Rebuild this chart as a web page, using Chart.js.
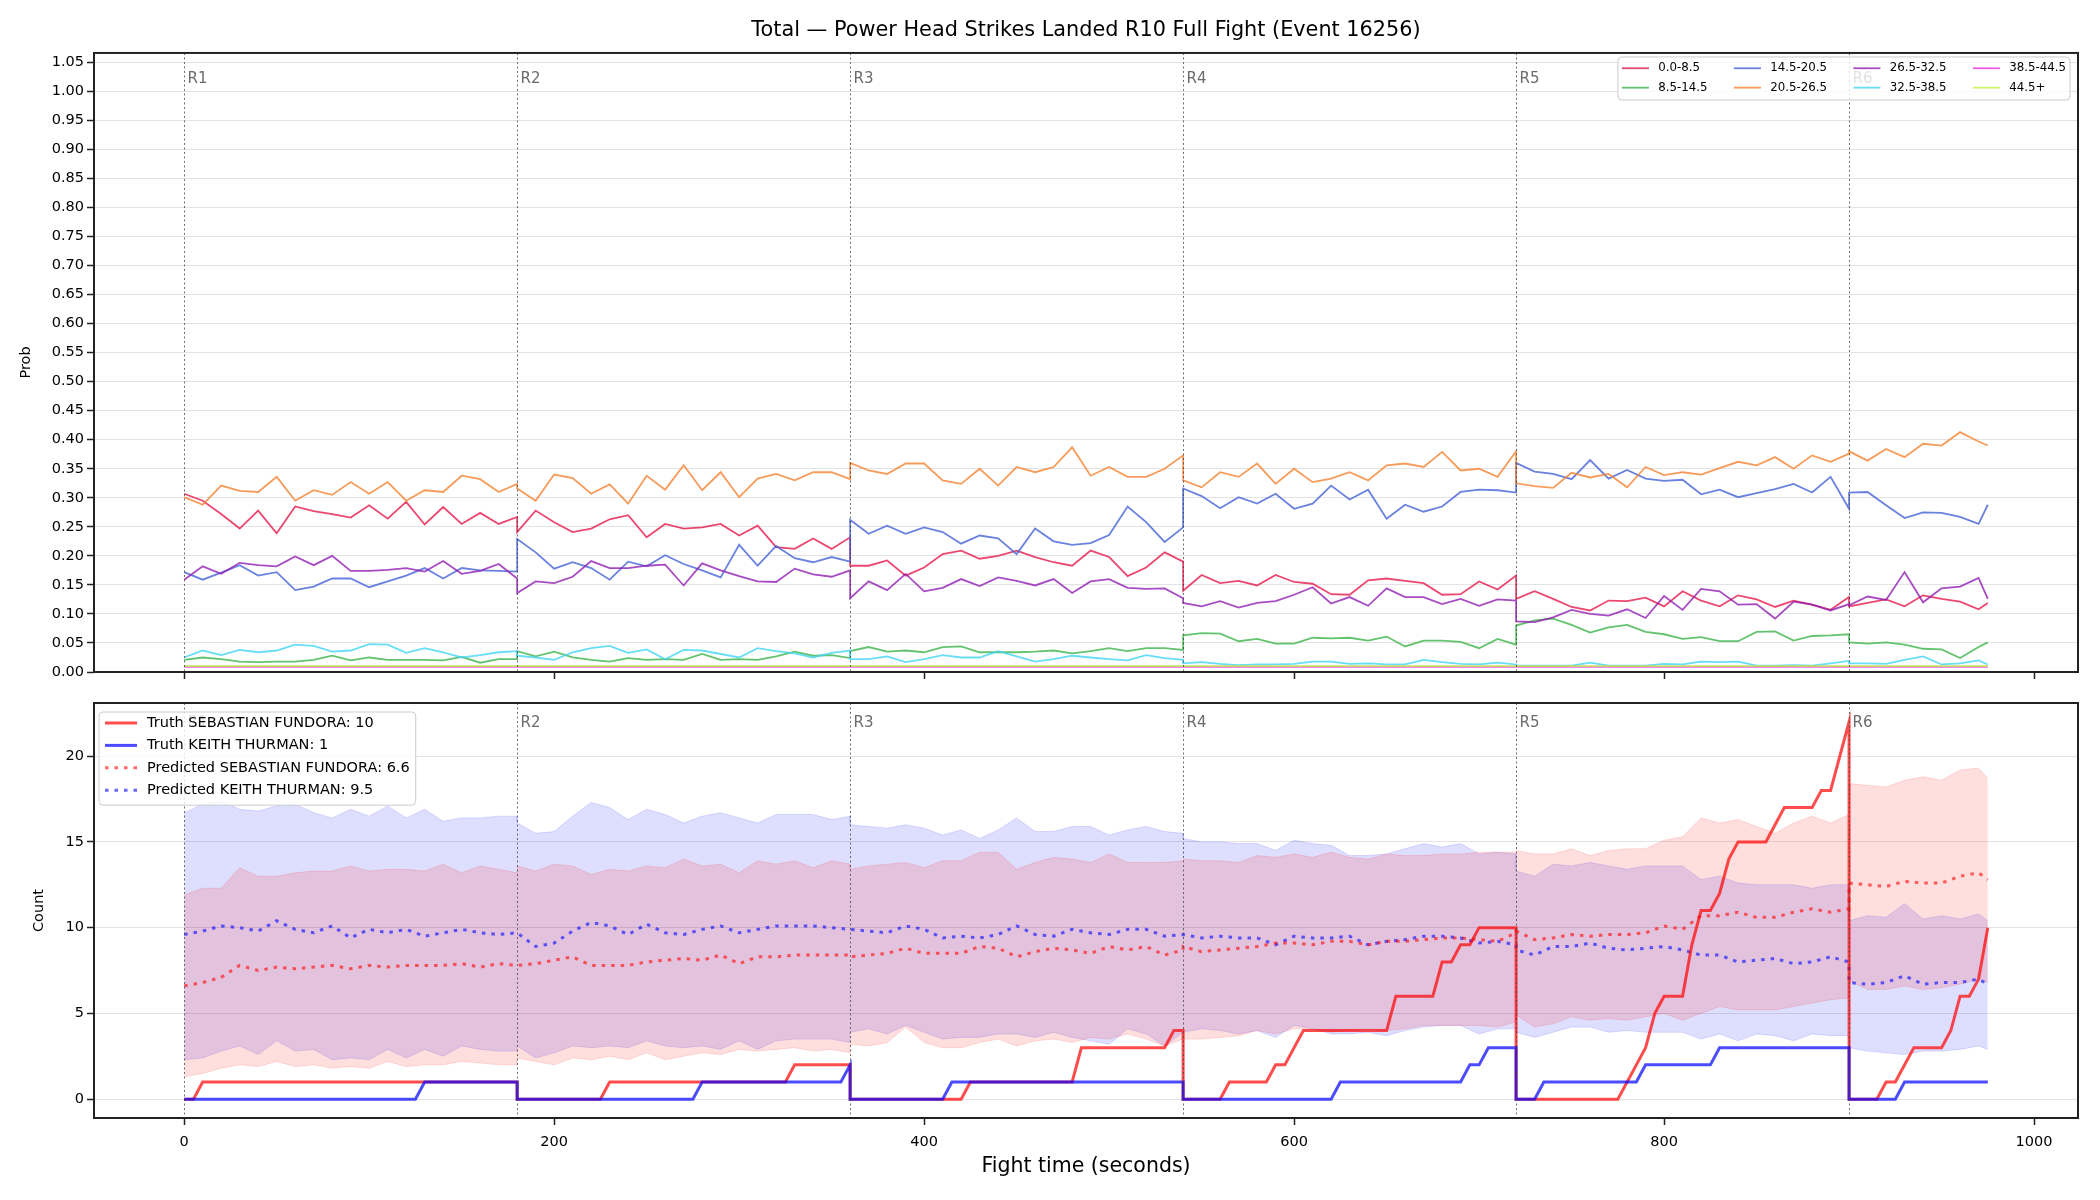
<!DOCTYPE html>
<html>
<head>
<meta charset="utf-8">
<script src="https://cdn.jsdelivr.net/npm/chart.js@4.4.1/dist/chart.umd.min.js"></script>
<style>
  html, body { margin: 0; padding: 0; background: #fff; }
  #wrap { position: relative; width: 2100px; height: 1200px; }
  canvas { position: absolute; left: 0; }
  #probChart { top: 0; }
  #countChart { top: 690px; }
</style>
</head>
<body>
<div id="wrap">
  <canvas id="probChart" width="2100" height="690"></canvas>
  <canvas id="countChart" width="2100" height="510"></canvas>
</div>
<script>
// sample times (s); each round repeats its boundary so the jump is vertical
const fightTime = [
  0, 10, 20, 30, 40, 50, 60, 70, 80, 90, 100, 110, 120, 130, 140, 150, 160, 170, 180,
  180, 190, 200, 210, 220, 230, 240, 250, 260, 270, 280, 290, 300, 310, 320, 330, 340, 350, 360,
  360, 370, 380, 390, 400, 410, 420, 430, 440, 450, 460, 470, 480, 490, 500, 510, 520, 530, 540,
  540, 550, 560, 570, 580, 590, 600, 610, 620, 630, 640, 650, 660, 670, 680, 690, 700, 710, 720,
  720, 730, 740, 750, 760, 770, 780, 790, 800, 810, 820, 830, 840, 850, 860, 870, 880, 890, 900,
  900, 910, 920, 930, 940, 950, 960, 970, 975
];
const flatTime = [0, 180, 180, 360, 360, 540, 540, 720, 720, 900, 900, 975];

const roundStarts = [0, 180, 360, 540, 720, 900];
const roundLabels = ['R1', 'R2', 'R3', 'R4', 'R5', 'R6'];

const bandLabels = ['0.0-8.5', '8.5-14.5', '14.5-20.5', '20.5-26.5', '26.5-32.5', '32.5-38.5', '38.5-44.5', '44.5+'];
const bandColors = ['#e6194b', '#3cb44b', '#4363d8', '#f58231', '#911eb4', '#42d4f4', '#f032e6', '#bfef45'];

const p0_85 = [
  0.307, 0.295, 0.272, 0.247, 0.278, 0.239, 0.285, 0.277, 0.272, 0.266, 0.287, 0.264, 0.293, 0.254, 0.284, 0.255, 0.274, 0.255, 0.267,
  0.241, 0.278, 0.258, 0.241, 0.247, 0.263, 0.27, 0.232, 0.255, 0.247, 0.249, 0.255, 0.235, 0.252, 0.215, 0.212, 0.23, 0.212, 0.232,
  0.183, 0.183, 0.192, 0.166, 0.18, 0.203, 0.209, 0.195, 0.2, 0.209, 0.198, 0.189, 0.183, 0.209, 0.198, 0.165, 0.18, 0.206, 0.19,
  0.14, 0.167, 0.153, 0.157, 0.149, 0.167, 0.155, 0.152, 0.134, 0.133, 0.158, 0.161, 0.157, 0.153, 0.133, 0.134, 0.156, 0.142, 0.166,
  0.126, 0.139, 0.126, 0.112, 0.106, 0.123, 0.122, 0.128, 0.113, 0.139, 0.123, 0.113, 0.132, 0.125, 0.112, 0.123, 0.116, 0.107, 0.129,
  0.113, 0.119, 0.125, 0.113, 0.132, 0.126, 0.121, 0.108, 0.119
];
const p85_145 = [
  0.021, 0.025, 0.022, 0.018, 0.017, 0.018, 0.018, 0.021, 0.028, 0.02, 0.025, 0.021, 0.021, 0.021, 0.02, 0.026, 0.016, 0.022, 0.022,
  0.036, 0.027, 0.035, 0.025, 0.021, 0.018, 0.024, 0.021, 0.022, 0.021, 0.031, 0.021, 0.022, 0.021, 0.027, 0.035, 0.028, 0.029, 0.024,
  0.036, 0.043, 0.035, 0.037, 0.034, 0.043, 0.044, 0.034, 0.034, 0.034, 0.035, 0.037, 0.032, 0.036, 0.041, 0.036, 0.041, 0.041, 0.038,
  0.063, 0.067, 0.066, 0.053, 0.057, 0.049, 0.049, 0.059, 0.058, 0.059, 0.054, 0.061, 0.044, 0.054, 0.054, 0.052, 0.041, 0.057, 0.047,
  0.08, 0.089, 0.092, 0.081, 0.068, 0.077, 0.081, 0.069, 0.065, 0.057, 0.06, 0.053, 0.053, 0.069, 0.07, 0.054, 0.062, 0.063, 0.065,
  0.051, 0.049, 0.051, 0.047, 0.04, 0.039, 0.024, 0.043, 0.051
];
const p145_205 = [
  0.172, 0.159, 0.171, 0.184, 0.166, 0.172, 0.141, 0.147, 0.161, 0.161, 0.146, 0.156, 0.166, 0.179, 0.161, 0.179, 0.175, 0.174, 0.173,
  0.229, 0.206, 0.178, 0.189, 0.179, 0.159, 0.19, 0.182, 0.201, 0.186, 0.175, 0.163, 0.219, 0.183, 0.217, 0.196, 0.189, 0.198, 0.19,
  0.262, 0.238, 0.252, 0.238, 0.249, 0.241, 0.221, 0.235, 0.23, 0.203, 0.247, 0.225, 0.219, 0.222, 0.236, 0.285, 0.258, 0.224, 0.249,
  0.316, 0.303, 0.282, 0.301, 0.29, 0.307, 0.281, 0.29, 0.321, 0.297, 0.314, 0.264, 0.288, 0.276, 0.285, 0.31, 0.314, 0.313, 0.309,
  0.36, 0.345, 0.341, 0.332, 0.365, 0.333, 0.348, 0.333, 0.329, 0.331, 0.306, 0.314, 0.301, 0.308, 0.315, 0.324, 0.309, 0.336, 0.281,
  0.309, 0.31, 0.287, 0.265, 0.275, 0.274, 0.267, 0.255, 0.288
];
const p205_265 = [
  0.301, 0.288, 0.321, 0.312, 0.31, 0.336, 0.295, 0.313, 0.305, 0.327, 0.307, 0.327, 0.295, 0.313, 0.31, 0.338, 0.332, 0.31, 0.324,
  0.316, 0.295, 0.34, 0.334, 0.307, 0.323, 0.29, 0.338, 0.314, 0.356, 0.313, 0.344, 0.301, 0.333, 0.341, 0.33, 0.344, 0.344, 0.332,
  0.36, 0.347, 0.341, 0.359, 0.359, 0.33, 0.324, 0.35, 0.321, 0.353, 0.344, 0.353, 0.387, 0.338, 0.353, 0.336, 0.336, 0.35, 0.373,
  0.33, 0.318, 0.344, 0.336, 0.359, 0.324, 0.35, 0.327, 0.333, 0.344, 0.33, 0.356, 0.359, 0.353, 0.379, 0.347, 0.35, 0.336, 0.38,
  0.325, 0.32, 0.317, 0.343, 0.335, 0.341, 0.318, 0.353, 0.339, 0.344, 0.34, 0.351, 0.362, 0.356, 0.37, 0.35, 0.373, 0.362, 0.376,
  0.38, 0.364, 0.384, 0.37, 0.393, 0.39, 0.413, 0.397, 0.39
];
const p265_325 = [
  0.159, 0.182, 0.169, 0.188, 0.184, 0.182, 0.199, 0.184, 0.2, 0.174, 0.174, 0.176, 0.179, 0.173, 0.191, 0.169, 0.174, 0.186, 0.161,
  0.136, 0.156, 0.153, 0.164, 0.191, 0.179, 0.179, 0.183, 0.185, 0.149, 0.187, 0.175, 0.165, 0.156, 0.155, 0.178, 0.168, 0.164, 0.175,
  0.127, 0.156, 0.141, 0.169, 0.139, 0.145, 0.16, 0.148, 0.163, 0.157, 0.149, 0.16, 0.136, 0.156, 0.16, 0.145, 0.143, 0.144, 0.127,
  0.119, 0.113, 0.122, 0.111, 0.119, 0.122, 0.133, 0.146, 0.118, 0.129, 0.114, 0.144, 0.129, 0.129, 0.117, 0.126, 0.114, 0.125, 0.123,
  0.087, 0.086, 0.094, 0.107, 0.1, 0.097, 0.108, 0.093, 0.131, 0.107, 0.143, 0.139, 0.116, 0.117, 0.092, 0.121, 0.116, 0.106, 0.117,
  0.115, 0.13, 0.124, 0.172, 0.12, 0.144, 0.147, 0.162, 0.126
];
const p325_385 = [
  0.025, 0.037, 0.029, 0.038, 0.034, 0.037, 0.047, 0.045, 0.035, 0.037, 0.048, 0.047, 0.033, 0.041, 0.034, 0.025, 0.029, 0.034, 0.036,
  0.028, 0.025, 0.021, 0.034, 0.041, 0.045, 0.033, 0.039, 0.022, 0.038, 0.037, 0.031, 0.025, 0.041, 0.036, 0.032, 0.025, 0.033, 0.037,
  0.022, 0.022, 0.027, 0.017, 0.022, 0.029, 0.025, 0.025, 0.036, 0.027, 0.018, 0.022, 0.028, 0.025, 0.022, 0.02, 0.029, 0.024, 0.021,
  0.015, 0.017, 0.014, 0.012, 0.013, 0.013, 0.014, 0.018, 0.018, 0.014, 0.015, 0.013, 0.013, 0.021, 0.017, 0.014, 0.013, 0.016, 0.013,
  0.011, 0.011, 0.011, 0.011, 0.016, 0.011, 0.011, 0.011, 0.014, 0.013, 0.018, 0.017, 0.018, 0.011, 0.011, 0.012, 0.011, 0.015, 0.019,
  0.015, 0.015, 0.014, 0.021, 0.027, 0.013, 0.015, 0.02, 0.013
];
const p385_445 = [0.009, 0.009, 0.009, 0.009, 0.009, 0.009, 0.009, 0.009, 0.009, 0.009, 0.009, 0.009];
const p445 = [0.01, 0.01, 0.01, 0.01, 0.01, 0.01, 0.01, 0.01, 0.01, 0.01, 0.01, 0.01];

// truth strike counts (cumulative within round)
const truthTimeRed = [
  0, 5, 10, 180,
  180, 225, 230, 325, 330, 360,
  360, 420, 425, 480, 485, 530, 535, 540,
  540, 560, 565, 585, 590, 595, 605, 650, 655, 675, 680, 685, 690, 695, 700, 720,
  720, 775, 780, 785, 790, 795, 800, 810, 815, 820, 825, 830, 835, 840, 855, 860, 865, 880, 885, 890, 900,
  900, 915, 920, 925, 935, 950, 955, 960, 965, 970, 975
];
const truthRed = [
  0, 0, 1, 1,
  0, 0, 1, 1, 2, 2,
  0, 0, 1, 1, 3, 3, 4, 4,
  0, 0, 1, 1, 2, 2, 4, 4, 6, 6, 8, 8, 9, 9, 10, 10,
  0, 0, 1, 2, 3, 5, 6, 6, 9, 11, 11, 12, 14, 15, 15, 16, 17, 17, 18, 18, 22,
  0, 0, 1, 1, 3, 3, 4, 6, 6, 7, 10
];
const truthTimeBlue = [
  0, 125, 130, 180,
  180, 275, 280, 355, 360,
  360, 410, 415, 540,
  540, 620, 625, 690, 695, 700, 705, 720,
  720, 730, 735, 785, 790, 825, 830, 900,
  900, 925, 930, 975
];
const truthBlue = [
  0, 0, 1, 1,
  0, 0, 1, 1, 2,
  0, 0, 1, 1,
  0, 0, 1, 1, 2, 2, 3, 3,
  0, 0, 1, 1, 2, 2, 3, 3,
  0, 0, 1, 1
];

const predRed = [
  6.6, 6.8, 7.1, 7.8, 7.5, 7.7, 7.6, 7.7, 7.8, 7.6, 7.8, 7.7, 7.8, 7.8, 7.8, 7.9, 7.7, 7.9, 7.8,
  7.8, 7.9, 8.1, 8.3, 7.8, 7.8, 7.8, 8.0, 8.1, 8.2, 8.1, 8.4, 7.9, 8.3, 8.3, 8.4, 8.4, 8.4, 8.4,
  8.3, 8.4, 8.5, 8.8, 8.5, 8.5, 8.5, 8.9, 8.8, 8.3, 8.6, 8.8, 8.7, 8.5, 8.9, 8.7, 8.9, 8.4, 8.7,
  8.9, 8.6, 8.7, 8.8, 8.9, 9.1, 9.1, 9.0, 9.2, 9.2, 9.0, 9.2, 9.2, 9.3, 9.4, 9.4, 9.3, 9.2, 9.7,
  9.8, 9.3, 9.4, 9.6, 9.5, 9.6, 9.6, 9.7, 10.1, 9.9, 10.7, 10.7, 10.9, 10.6, 10.6, 10.9, 11.1, 10.9, 11.1,
  12.6, 12.5, 12.4, 12.7, 12.6, 12.6, 13.0, 13.2, 12.8
];
const predBlue = [
  9.6, 9.8, 10.1, 10.0, 9.8, 10.4, 9.9, 9.7, 10.1, 9.4, 9.9, 9.7, 9.9, 9.5, 9.7, 9.9, 9.7, 9.6, 9.7,
  9.7, 8.9, 9.1, 9.8, 10.3, 10.1, 9.6, 10.2, 9.7, 9.6, 9.9, 10.1, 9.7, 9.9, 10.1, 10.1, 10.1, 10.0, 9.9,
  9.9, 9.8, 9.7, 10.1, 9.9, 9.4, 9.5, 9.4, 9.6, 10.1, 9.6, 9.5, 9.9, 9.7, 9.6, 9.9, 9.9, 9.5, 9.6,
  9.6, 9.4, 9.5, 9.4, 9.4, 9.0, 9.5, 9.4, 9.4, 9.5, 9.0, 9.2, 9.3, 9.5, 9.5, 9.4, 9.1, 9.2, 9.0,
  8.7, 8.4, 8.9, 8.9, 9.1, 8.8, 8.7, 8.8, 8.9, 8.7, 8.4, 8.4, 8.0, 8.1, 8.2, 7.9, 8.0, 8.3, 8.0,
  6.8, 6.7, 6.8, 7.2, 6.7, 6.8, 6.8, 7.0, 6.7
];
const redUpper = [
  11.9, 12.3, 12.3, 13.5, 13.0, 13.0, 13.2, 13.3, 13.3, 13.6, 13.3, 13.4, 13.4, 13.3, 13.7, 13.2, 13.6, 13.4, 13.2,
  13.6, 13.3, 13.7, 13.6, 13.1, 13.4, 13.3, 13.6, 13.5, 14.0, 13.6, 13.7, 13.2, 13.9, 13.7, 13.9, 13.5, 13.9, 13.7,
  13.4, 13.6, 13.7, 13.8, 13.5, 13.9, 13.9, 14.4, 14.4, 13.4, 13.8, 14.1, 14.0, 13.8, 14.3, 13.8, 13.8, 13.8, 13.9,
  14.0, 13.9, 13.9, 13.8, 14.2, 14.1, 14.3, 14.1, 14.4, 14.1, 14.0, 14.3, 14.2, 14.2, 14.3, 14.3, 14.4, 14.4, 14.4,
  14.5, 14.3, 14.3, 14.6, 14.2, 14.5, 14.6, 14.6, 15.1, 15.3, 16.4, 16.1, 16.3, 15.9, 15.5, 16.1, 16.5, 16.1, 16.6,
  18.4, 18.3, 18.2, 18.6, 18.8, 18.6, 19.2, 19.3, 18.7
];
const redLower = [
  1.3, 1.5, 1.8, 2.0, 1.9, 2.2, 1.9, 2.0, 1.8, 1.9, 1.8, 2.2, 1.9, 2.0, 2.0, 2.2, 2.1, 2.0, 2.0,
  2.4, 2.2, 2.0, 2.4, 2.3, 2.5, 2.3, 2.7, 2.3, 2.5, 2.7, 2.6, 2.9, 2.8, 2.9, 3.0, 2.8, 2.9, 2.7,
  3.2, 3.1, 3.3, 4.2, 3.3, 3.0, 3.0, 3.3, 3.5, 3.1, 3.4, 3.5, 3.3, 3.6, 3.5, 3.8, 3.5, 3.1, 3.5,
  3.5, 3.5, 3.6, 3.7, 4.0, 3.8, 4.1, 4.1, 3.9, 4.0, 4.1, 4.0, 4.1, 4.3, 4.3, 4.3, 4.3, 4.2, 4.5,
  4.9, 4.2, 4.4, 4.8, 4.6, 4.7, 4.6, 4.8, 5.0, 4.6, 5.0, 5.4, 5.2, 5.2, 5.2, 5.4, 5.6, 5.8, 5.9,
  6.9, 6.4, 6.4, 6.6, 6.4, 6.5, 6.7, 7.0, 6.8
];
const blueUpper = [
  16.7, 17.2, 17.4, 16.9, 16.8, 17.1, 17.2, 16.7, 16.4, 16.9, 16.5, 17.1, 16.4, 16.9, 16.2, 16.4, 16.4, 16.5, 16.5,
  16.1, 15.5, 15.6, 16.5, 17.3, 17.0, 16.3, 16.9, 16.6, 16.1, 16.5, 16.7, 16.4, 16.1, 16.6, 16.6, 16.6, 16.3, 16.5,
  16.0, 15.9, 15.8, 16.0, 15.8, 15.4, 15.7, 15.2, 15.7, 16.4, 15.6, 15.6, 15.9, 15.9, 15.4, 15.7, 15.9, 15.6, 15.5,
  15.2, 15.0, 15.0, 14.9, 14.9, 14.5, 15.1, 14.9, 14.8, 14.2, 14.2, 14.3, 14.6, 14.9, 14.7, 14.9, 14.3, 14.4, 14.3,
  13.3, 13.0, 13.7, 13.6, 13.8, 13.6, 13.4, 13.6, 13.6, 13.6, 12.8, 13.0, 12.6, 12.5, 12.5, 12.5, 12.3, 12.5, 12.5,
  10.4, 10.7, 10.6, 11.4, 10.5, 10.7, 10.5, 10.8, 10.4
];
const blueLower = [
  2.3, 2.4, 2.8, 3.1, 2.6, 3.4, 2.8, 2.9, 2.3, 2.4, 2.3, 2.9, 2.4, 2.9, 2.5, 3.1, 2.9, 2.8, 2.8,
  3.1, 2.4, 2.7, 3.1, 3.0, 3.1, 3.0, 3.4, 3.1, 3.0, 3.1, 2.9, 3.4, 2.9, 3.4, 3.5, 3.5, 3.5, 3.3,
  3.9, 4.1, 3.8, 4.3, 3.9, 3.5, 3.6, 3.6, 3.8, 3.8, 3.6, 3.9, 3.6, 3.4, 3.2, 4.1, 3.8, 3.1, 3.9,
  3.9, 4.1, 4.0, 3.8, 4.0, 3.6, 4.3, 4.1, 3.8, 3.8, 3.9, 3.7, 4.0, 4.2, 4.3, 4.3, 3.8, 4.1, 4.1,
  3.9, 3.6, 3.9, 4.2, 4.2, 3.9, 4.0, 3.9, 3.9, 3.9, 3.5, 3.8, 3.4, 3.8, 3.7, 3.4, 3.8, 3.7, 3.7,
  3.0, 2.8, 2.7, 2.6, 2.8, 2.8, 2.9, 3.1, 2.9
];

const xTicks = [0, 200, 400, 600, 800, 1000];
const probTicks = [0, 0.05, 0.1, 0.15, 0.2, 0.25, 0.3, 0.35, 0.4, 0.45, 0.5, 0.55, 0.6, 0.65, 0.7,
  0.75, 0.8, 0.85, 0.9, 0.95, 1.0, 1.05];
const countTicks = [0, 5, 10, 15, 20];

Chart.defaults.font.family = '"DejaVu Sans", sans-serif';
Chart.defaults.font.size = 14.5;
Chart.defaults.color = '#000';
Chart.defaults.animation = false;

function pts(times, vals) {
  return times.map((t, i) => ({ x: t, y: vals[i] }));
}
function withAlpha(hex, a) {
  const n = parseInt(hex.slice(1), 16);
  return `rgba(${n >> 16}, ${(n >> 8) & 255}, ${n & 255}, ${a})`;
}

function drawLegend(chart, o) {
  const ctx = chart.ctx, a = chart.chartArea;
  const items = chart.data.datasets.filter(d => !d.legendSkip);
  ctx.font = o.fontSize + 'px "DejaVu Sans"';
  const cols = Math.ceil(items.length / o.rows);
  const colW = [];
  for (let c = 0; c < cols; c++) {
    let w = 0;
    for (let r = 0; r < o.rows; r++) {
      const it = items[c * o.rows + r];
      if (it) w = Math.max(w, ctx.measureText(it.label).width);
    }
    colW.push(o.handle + o.gap + w);
  }
  const boxW = o.pad * 2 + colW.reduce((s, w) => s + w, 0) + o.colSpace * (cols - 1);
  const boxH = o.padTop + o.rowH * (o.rows - 1) + o.padBottom;
  const bx = o.align === 'right' ? a.right - o.dx - boxW : a.left + o.dx;
  const by = a.top + o.dy;

  ctx.beginPath();
  if (ctx.roundRect) ctx.roundRect(bx, by, boxW, boxH, 4); else ctx.rect(bx, by, boxW, boxH);
  ctx.fillStyle = 'rgba(255,255,255,0.8)';
  ctx.fill();
  ctx.strokeStyle = '#cccccc';
  ctx.lineWidth = 1;
  ctx.stroke();

  let cx = bx + o.pad;
  for (let c = 0; c < cols; c++) {
    for (let r = 0; r < o.rows; r++) {
      const it = items[c * o.rows + r];
      if (!it) continue;
      const cy = by + o.padTop + r * o.rowH;
      ctx.strokeStyle = it.borderColor;
      ctx.lineWidth = it.borderWidth;
      ctx.setLineDash(it.borderDash || []);
      ctx.beginPath();
      ctx.moveTo(cx, cy);
      ctx.lineTo(cx + o.handle, cy);
      ctx.stroke();
      ctx.setLineDash([]);
      ctx.fillStyle = '#000';
      ctx.textAlign = 'left';
      ctx.textBaseline = 'middle';
      ctx.fillText(it.label, cx + o.handle + o.gap, cy);
    }
    cx += colW[c] + o.colSpace;
  }
}

// round markers, axes frame and legend box
const decorPlugin = {
  id: 'decor',
  afterDatasetsDraw(chart, args, opts) {
    const { ctx, chartArea: a } = chart;
    const x = chart.scales.x;
    const h = a.bottom - a.top;
    ctx.save();
    ctx.strokeStyle = 'rgba(60,60,60,0.75)';
    ctx.lineWidth = 1;
    ctx.setLineDash([2, 2.5]);
    ctx.font = '15px "DejaVu Sans"';
    ctx.fillStyle = '#6b6b6b';
    ctx.textAlign = 'left';
    ctx.textBaseline = 'middle';
    roundStarts.forEach((t, i) => {
      const px = Math.round(x.getPixelForValue(t)) + 0.5;
      ctx.beginPath();
      ctx.moveTo(px, a.top);
      ctx.lineTo(px, a.bottom);
      ctx.stroke();
      ctx.fillText(roundLabels[i], px + 3, a.top + 0.03 * h + 8);
    });
    ctx.setLineDash([]);
    ctx.strokeStyle = '#222';
    ctx.lineWidth = 2;
    ctx.strokeRect(a.left, a.top, a.right - a.left, h);
    drawLegend(chart, opts.legend);
    ctx.restore();
  }
};

const probSeries = [p0_85, p85_145, p145_205, p205_265, p265_325, p325_385];

new Chart(document.getElementById('probChart'), {
  type: 'line',
  data: {
    datasets: bandLabels.map((lab, i) => ({
      label: lab,
      data: i < 6 ? pts(fightTime, probSeries[i]) : pts(flatTime, i === 6 ? p385_445 : p445),
      borderColor: withAlpha(bandColors[i], 0.8),
      borderWidth: 1.8,
      pointRadius: 0,
      fill: false,
      order: 8 - i
    }))
  },
  options: {
    responsive: false,
    layout: { padding: { left: 0, right: 22, top: 0, bottom: 0 } },
    scales: {
      x: {
        type: 'linear', min: -48.75, max: 1023.75,
        afterBuildTicks: s => { s.ticks = xTicks.map(v => ({ value: v })); },
        ticks: { display: false },
        grid: { drawOnChartArea: false, drawTicks: true, tickLength: 7, tickColor: '#222', tickWidth: 1.5 },
        border: { display: false },
        afterFit: s => { s.height = 18; }
      },
      y: {
        min: 0, max: 1.066,
        afterBuildTicks: s => { s.ticks = probTicks.map(v => ({ value: v })); },
        ticks: { padding: 3, callback: v => v.toFixed(2) },
        grid: { color: '#e3e3e3', tickLength: 7, tickColor: '#222', tickWidth: 1.5 },
        border: { display: false },
        title: { display: true, text: 'Prob', font: { size: 14.5 }, padding: { top: 18 } },
        afterFit: s => { s.width = 94; }
      }
    },
    plugins: {
      legend: { display: false },
      tooltip: { enabled: false },
      title: {
        display: true, fullSize: false,
        text: 'Total — Power Head Strikes Landed R10 Full Fight (Event 16256)',
        font: { size: 20.8, weight: 'normal' }, color: '#000',
        padding: { top: 18, bottom: 10 }
      },
      decor: {
        legend: { rows: 2, fontSize: 11.8, handle: 27, gap: 9.3, colSpace: 26.4, pad: 4,
                  padTop: 11.3, rowH: 19.4, padBottom: 12.3, align: 'right', dx: 8, dy: 4 }
      }
    }
  },
  plugins: [decorPlugin]
});

new Chart(document.getElementById('countChart'), {
  type: 'line',
  data: {
    datasets: [
      { label: 'Truth SEBASTIAN FUNDORA: 10', data: pts(truthTimeRed, truthRed),
        borderColor: 'rgba(255,0,0,0.7)', borderWidth: 3, pointRadius: 0, fill: false, order: 0.5 },
      { label: 'Truth KEITH THURMAN: 1', data: pts(truthTimeBlue, truthBlue),
        borderColor: 'rgba(0,0,255,0.7)', borderWidth: 3, pointRadius: 0, fill: false, order: 0 },
      { label: 'Predicted SEBASTIAN FUNDORA: 6.6', data: pts(fightTime, predRed),
        borderColor: 'rgba(255,0,0,0.6)', borderWidth: 3, borderDash: [3.5, 6], pointRadius: 0, fill: false, order: 1 },
      { label: 'Predicted KEITH THURMAN: 9.5', data: pts(fightTime, predBlue),
        borderColor: 'rgba(0,0,255,0.6)', borderWidth: 3, borderDash: [3.5, 6], pointRadius: 0, fill: false, order: 1 },
      { label: 'red band high', legendSkip: true, data: pts(fightTime, redUpper),
        borderColor: 'rgba(255,0,0,0.13)', borderWidth: 1, backgroundColor: 'rgba(255,0,0,0.13)',
        pointRadius: 0, fill: '+1', order: 2 },
      { label: 'red band low', legendSkip: true, data: pts(fightTime, redLower),
        borderColor: 'rgba(255,0,0,0.13)', borderWidth: 1, pointRadius: 0, fill: false, order: 2 },
      { label: 'blue band high', legendSkip: true, data: pts(fightTime, blueUpper),
        borderColor: 'rgba(0,0,255,0.13)', borderWidth: 1, backgroundColor: 'rgba(0,0,255,0.13)',
        pointRadius: 0, fill: '+1', order: 2 },
      { label: 'blue band low', legendSkip: true, data: pts(fightTime, blueLower),
        borderColor: 'rgba(0,0,255,0.13)', borderWidth: 1, pointRadius: 0, fill: false, order: 2 }
    ]
  },
  options: {
    responsive: false,
    layout: { padding: { left: 0, right: 22, top: 13, bottom: 0 } },
    scales: {
      x: {
        type: 'linear', min: -48.75, max: 1023.75,
        afterBuildTicks: s => { s.ticks = xTicks.map(v => ({ value: v })); },
        ticks: { padding: 9, maxRotation: 0, autoSkip: false, callback: v => String(v) },
        grid: { drawOnChartArea: false, drawTicks: true, tickLength: 7, tickColor: '#222', tickWidth: 1.5 },
        border: { display: false },
        title: { display: true, text: 'Fight time (seconds)', font: { size: 20.5 }, padding: { top: 0, bottom: 21 } },
        afterFit: s => { s.height = 82; }
      },
      y: {
        min: -1.1, max: 23.1,
        afterBuildTicks: s => { s.ticks = countTicks.map(v => ({ value: v })); },
        ticks: { padding: 3 },
        grid: { color: '#e3e3e3', tickLength: 7, tickColor: '#222', tickWidth: 1.5 },
        border: { display: false },
        title: { display: true, text: 'Count', font: { size: 14.5 }, padding: { top: 31 } },
        afterFit: s => { s.width = 94; }
      }
    },
    plugins: {
      legend: { display: false },
      tooltip: { enabled: false },
      decor: {
        legend: { rows: 4, fontSize: 14.5, handle: 32, gap: 10, colSpace: 0, pad: 6,
                  padTop: 11, rowH: 22.4, padBottom: 15, align: 'left', dx: 5, dy: 9 }
      }
    }
  },
  plugins: [decorPlugin]
});
</script>
</body>
</html>
